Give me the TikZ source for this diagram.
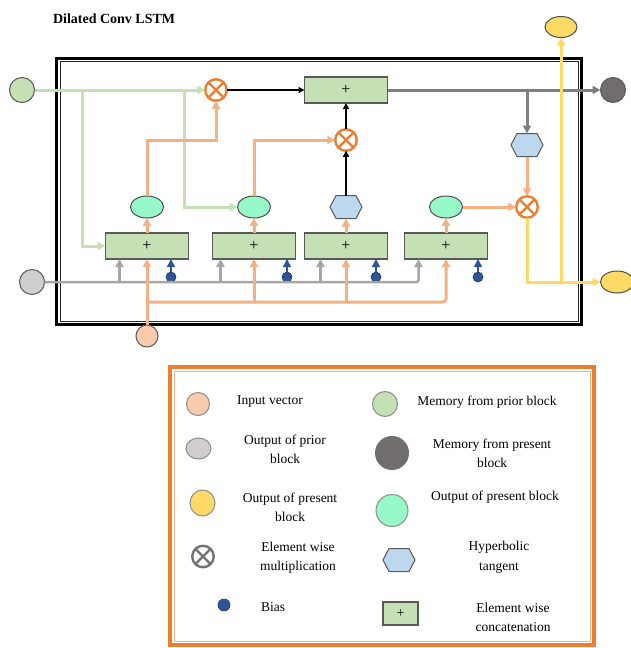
\documentclass[tikz,border=0pt]{standalone}
\usepackage{fontspec}
\setmainfont{Liberation Serif}
\usetikzlibrary{arrows.meta,shapes.geometric}

\definecolor{boxfill}{HTML}{C5E0B4}
\definecolor{boxline}{HTML}{595959}
\definecolor{memgreen}{HTML}{C5E0B4}
\definecolor{peach}{HTML}{F4B183}
\definecolor{peachfill}{HTML}{F8CBAD}
\definecolor{multorange}{HTML}{ED7D31}
\definecolor{mint}{HTML}{97F9C8}
\definecolor{tanhblue}{HTML}{BDD7EE}
\definecolor{biasblue}{HTML}{2F5597}
\definecolor{outgold}{HTML}{FFD966}
\definecolor{prevgray}{HTML}{D0CECE}
\definecolor{linegray}{HTML}{A6A6A6}
\definecolor{memdark}{HTML}{716D6D}
\definecolor{arrowgray}{HTML}{7F7F7F}
\definecolor{legendorange}{HTML}{ED7D31}

\tikzset{
  every node/.append style={inner sep=0pt, outer sep=0pt},
  lbl/.style={font=\fontsize{13.5}{19.5}\selectfont, align=center},
  concat/.style={draw=boxline, fill=boxfill, line width=1.3pt,
    minimum width=83pt, minimum height=26pt, font=\fontsize{16}{16}\selectfont},
  gatestyle/.style={ellipse, draw=black!70, fill=mint, line width=1pt,
    minimum width=33pt, minimum height=22pt},
  mult/.style={circle, draw=#1, fill=white, line width=2.4pt, minimum size=21.5pt,
    path picture={\draw[#1, line width=2.4pt]
      (path picture bounding box.north west) -- (path picture bounding box.south east)
      (path picture bounding box.north east) -- (path picture bounding box.south west);}},
  hexframe/.style={minimum width=32pt, minimum height=23pt},
  hexdraw/.style={draw=boxline, fill=tanhblue, line width=1pt},
  port/.style={circle, draw=black!65, line width=1pt, fill=#1},
  oval/.style={ellipse, draw=black!70, line width=1pt, fill=#1},
  biasdot/.style={circle, fill=biasblue, draw=biasblue!60!black, line width=0.6pt, minimum size=10pt},
  bigtip/.style={-{Triangle[length=8pt,width=8pt]}},
  smalltip/.style={-{Triangle[length=6pt,width=6pt]}},
  gline/.style={draw=memgreen, line width=3pt, bigtip},
  oline/.style={draw=peach, line width=3pt, bigtip},
  grline/.style={draw=linegray, line width=2.5pt, bigtip},
  dline/.style={draw=arrowgray, line width=3pt, bigtip},
  yline/.style={draw=outgold, line width=3pt, bigtip},
  kline/.style={draw=black, line width=1.2pt, smalltip},
  bline/.style={draw=biasblue, line width=1.5pt, -{Triangle[length=8pt,width=8pt]}},
}

% hyperbolic-tangent hexagon: invisible rectangle for anchors, hexagon drawn on it
\newcommand\tanhnode[2]{%
  \node[hexframe] (#1) at (#2) {};
  \draw[hexdraw] (#1.west) -- ([xshift=6pt]#1.north west) -- ([xshift=-6pt]#1.north east)
    -- (#1.east) -- ([xshift=-6pt]#1.south east) -- ([xshift=6pt]#1.south west) -- cycle;}

\begin{document}
\begin{tikzpicture}[x=1pt,y=-1pt]
\useasboundingbox (0,0) rectangle (630,648);

% title
\node[anchor=base west, font=\bfseries\fontsize{14}{16}\selectfont] (title) at (53,23) {Dilated Conv LSTM};

% cell frame (thick outer, thin inner)
\node[draw=black, line width=3pt, minimum width=525.5pt, minimum height=266.5pt] (cell) at (318.75,191.25) {};
\draw[black!85, line width=1pt] (60.5,61.5) rectangle (578,321.5);

% concatenation blocks
\node[concat] (B0) at (346,90) {+};
\node[concat] (B1) at (147,246) {+};
\node[concat] (B2) at (254,246) {+};
\node[concat] (B3) at (346,246) {+};
\node[concat] (B4) at (446,246) {+};

% gates
\node[gatestyle] (E1) at (147,207) {};
\node[gatestyle] (E2) at (254,207) {};
\node[gatestyle] (E4) at (446,207) {};
\tanhnode{H2}{346,207}
\tanhnode{H1}{527,145}

% element-wise products
\node[mult=multorange] (X1) at (216,90) {};
\node[mult=multorange] (X2) at (346,140) {};
\node[mult=multorange] (X3) at (527,207) {};

% inputs and outputs
\node[port=memgreen, minimum size=25pt] (M) at (22,90) {};
\node[port=prevgray, minimum size=25pt] (G) at (32,282) {};
\node[port=peachfill, minimum size=22pt] (I) at (147,336) {};
\node[port=memdark, minimum size=25pt] (D) at (613,90) {};
\node[oval=outgold, minimum width=32pt, minimum height=21pt] (Y1) at (561,27) {};
\node[oval=outgold, minimum width=33pt, minimum height=22pt] (Y2) at (617,282) {};

% biases
\node[biasdot] (b1) at (171,277) {};
\node[biasdot] (b2) at (287,277) {};
\node[biasdot] (b3) at (376,277) {};
\node[biasdot] (b4) at (478,277) {};

% memory from prior block
\coordinate (gj1) at (82,90);
\coordinate (gj2) at (184,90);
\draw[gline] (M.east) -- (X1.west);
\draw[gline] (gj1) |- (B1.west);
\draw[gline] (gj2) |- (E2.west);

% output of prior block
\coordinate (p1) at ([xshift=14pt]B1.south west);
\coordinate (p2) at ([xshift=8pt]B2.south west);
\coordinate (p3) at ([xshift=16pt]B3.south west);
\coordinate (p4) at ([xshift=14pt]B4.south west);
\draw[grline, rounded corners=2pt] (G.east) -| (p4);
\draw[grline] (p1 |- G) -- (p1);
\draw[grline] (p2 |- G) -- (p2);
\draw[grline] (p3 |- G) -- (p3);

% bias inputs
\draw[bline] (b1.north) -- (b1.north |- B1.south);
\draw[bline] (b2.north) -- (b2.north |- B2.south);
\draw[bline] (b3.north) -- (b3.north |- B3.south);
\draw[bline] (b4.north) -- (b4.north |- B4.south);

% input vector
\coordinate (oj) at (147,302);
\draw[oline] (I.north) -- (B1.south);
\draw[oline, rounded corners=3pt] (oj) -| (B4.south);
\draw[oline] (B2.south |- oj) -- (B2.south);
\draw[oline] (B3.south |- oj) -- (B3.south);

% block to gate
\draw[oline] (B1.north) -- (E1.south);
\draw[oline] (B2.north) -- (E2.south);
\draw[oline] (B3.north) -- (H2.south);
\draw[oline] (B4.north) -- (E4.south);

% gates to products
\draw[oline] (E1.north) |- (X1 |- X2) -- (X1.south);
\draw[oline] (E2.north) |- (X2.west);
\draw[oline] (E4.east) -- (X3.west);
\draw[oline] (H1.south) -- (X3.north);
\draw[kline] (H2.north) -- (X2.south);
\draw[kline] (X2.north) -- (B0.south);
\draw[kline] (X1.east) -- (B0.west);

% memory to next block
\coordinate (dj) at (H1.north |- B0.east);
\draw[dline] (B0.east) -- (D.west);
\draw[dline] (dj) -- (H1.north);

% block output
\coordinate (yj) at (Y1.south |- Y2.west);
\draw[yline] (X3.south) |- (Y2.west);
\draw[yline] (yj) -- (Y1.south);

% legend
\node[draw=legendorange, line width=3.5pt, minimum width=424pt, minimum height=278pt] (legend) at (382,506) {};
\draw[peach, line width=1pt] (174,371) rectangle (590,641);

\node[port=peachfill, draw=black!45, minimum size=23pt] (kI) at (198,404) {};
\node[lbl] (tI) at (270,402) {Input vector};
\node[port=memgreen, draw=black!45, minimum size=25pt] (kM) at (385,404) {};
\node[lbl] (tM) at (487,402) {Memory from prior block};

\node[oval=prevgray, draw=black!45, minimum width=25pt, minimum height=21pt] (kG) at (198.5,448.5) {};
\node[lbl] (tG) at (285,449.5) {Output of prior\\block};
\node[port=memdark, draw=memdark, minimum size=33pt] (kD) at (392,453) {};
\node[lbl] (tD) at (492,453.5) {Memory from present\\block};

\node[oval=outgold, draw=black!45, minimum width=25pt, minimum height=26pt] (kY) at (202.5,503) {};
\node[lbl] (tY) at (290,507.5) {Output of present\\block};
\node[port=mint, draw=black!45, minimum size=32pt] (kE) at (392,510.5) {};
\node[lbl] (tE) at (495,497) {Output of present block};

\node[mult=black!55] (kX) at (203,556.5) {};
\node[lbl] (tX) at (298,557.5) {Element wise\\multiplication};
\tanhnode{kH}{399,560}
\node[lbl] (tH) at (499,557.5) {Hyperbolic\\tangent};

\node[biasdot, minimum size=12pt] (kB) at (224,605) {};
\node[lbl] (tB) at (273,607) {Bias};
\node[concat, minimum width=35pt, minimum height=23pt, font=\fontsize{14}{14}\selectfont] (kC) at (400.5,613.5) {+};
\node[lbl] (tC) at (513,617.5) {Element wise\\concatenation};
\end{tikzpicture}
\end{document}
